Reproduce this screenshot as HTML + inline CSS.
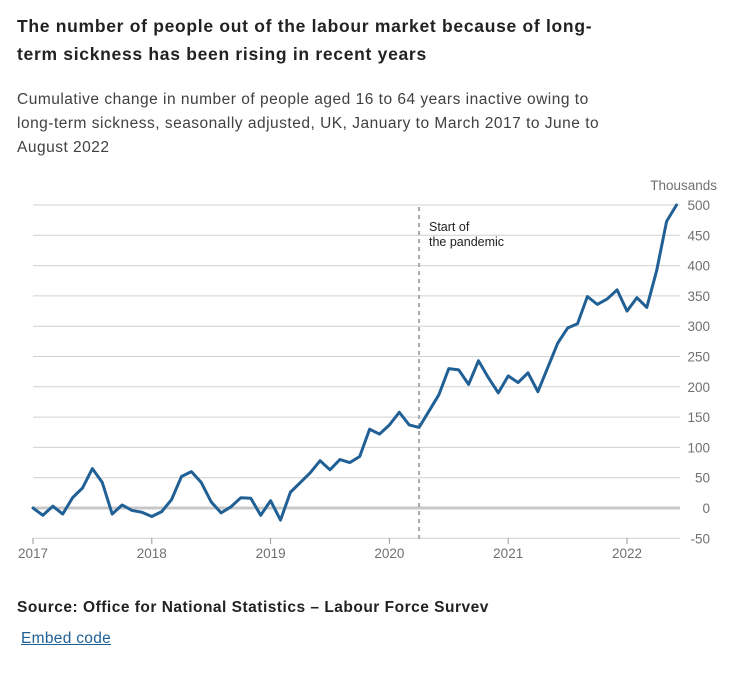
<!DOCTYPE html>
<html><head><meta charset="utf-8"><style>
body{margin:0;width:738px;height:681px;background:#fff;font-family:"Liberation Sans",sans-serif;color:#222;position:relative;overflow:hidden}
.t{position:absolute;left:17px;top:12px;white-space:nowrap;font-weight:bold;font-size:17.5px;line-height:28px;letter-spacing:0.7px}
.s{position:absolute;left:17px;top:88px;white-space:nowrap;font-size:15.5px;line-height:24px;color:#414042;letter-spacing:0.5px}
.src{position:absolute;left:17px;top:599px;font-weight:bold;font-size:15.5px;letter-spacing:0.5px}
.emb{position:absolute;left:21px;top:630px;font-size:15.5px;color:#206095;text-decoration:underline;letter-spacing:0.3px}
svg{position:absolute;left:0;top:0}
</style></head><body>
<div class="t">The number of people out of the labour market because of long-<br>term sickness has been rising in recent years</div>
<div class="s">Cumulative change in number of people aged 16 to 64 years inactive owing to<br>long-term sickness, seasonally adjusted, UK, January to March 2017 to June to<br>August 2022</div>
<svg id="c" width="738" height="681"></svg>
<div class="src">Source: Office for National Statistics – Labour Force Survev</div>
<div class="emb">Embed code</div>
<script>
const values=[0,-12,3,-10,17,33,65,42,-10,5,-4,-7,
-14,-6,14,52,60,42,10,-8,2,17,16,-12,
12,-20,26,42,58,78,63,80,75,85,130,122,
137,158,137,133,160,187,230,228,204,243,215,190,
218,207,223,192,232,272,297,304,349,336,345,360,
325,347,331,392,473,500];
const yTicks=[500,450,400,350,300,250,200,150,100,50,0,-50];
const xYears=[2017,2018,2019,2020,2021,2022];
const pandemicMonth=39;
const NS="http://www.w3.org/2000/svg",svg=document.getElementById('c');
const x0=33,mw=9.9,y=v=>508-v*0.606,x=i=>x0+i*mw;
function mk(t,a,p){const e=document.createElementNS(NS,t);for(const k in a)e.setAttribute(k,a[k]);(p||svg).appendChild(e);return e;}
yTicks.forEach(v=>{
const l=mk('line',{x1:33,x2:680,y1:y(v),y2:y(v),stroke:v===0?'#c8c8c8':'#d0d0d0','stroke-width':v===0?3:1});


const t=mk('text',{x:710,y:y(v)+5,'text-anchor':'end','font-size':13.5,fill:'#707070','font-family':'Liberation Sans'});t.textContent=v;


});
const u=mk('text',{x:717,y:190,'text-anchor':'end','font-size':13.5,fill:'#707070'});u.textContent='Thousands';


xYears.forEach((yr,k)=>{const px=x(k*12);
const tk=mk('line',{x1:px,x2:px,y1:538,y2:544,stroke:'#999'});


const t=mk('text',{x:px,y:558,'text-anchor':'middle','font-size':13.5,fill:'#707070'});t.textContent=yr;

});
const pl=mk('line',{x1:x(pandemicMonth),x2:x(pandemicMonth),y1:207,y2:540,stroke:'#aaa','stroke-width':2,'stroke-dasharray':'4,4'});


const a=mk('text',{x:429,y:231,'font-size':12.5,fill:'#222'});a.textContent='Start of';


const b=mk('text',{x:429,y:246,'font-size':12.5,fill:'#222'});b.textContent='the pandemic';


const p=mk('polyline',{points:values.map((v,i)=>x(i)+','+y(v)).join(' '),fill:'none',stroke:'#206095','stroke-width':3,'stroke-linejoin':'round','stroke-linecap':'round'});


</script>
</body></html>
